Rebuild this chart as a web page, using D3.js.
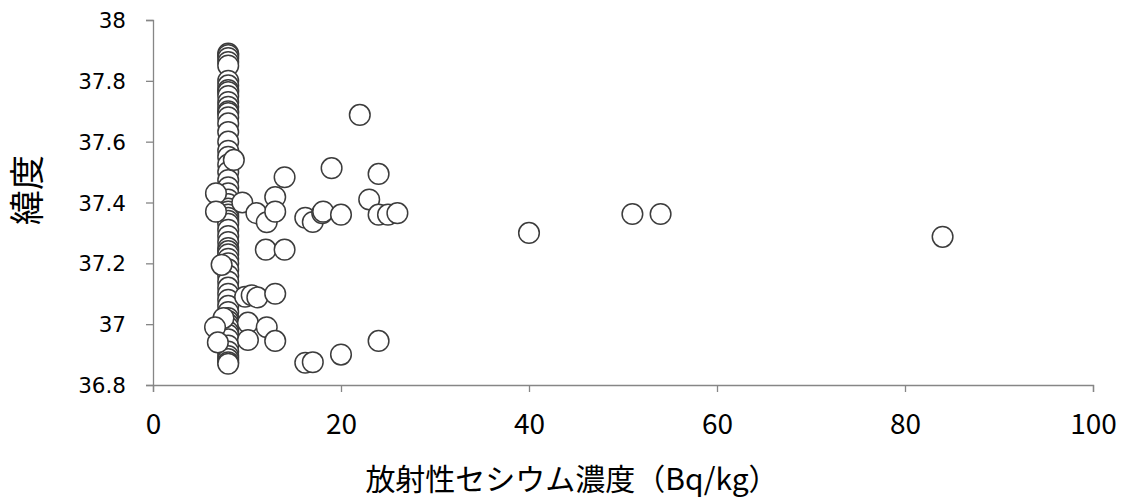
<!DOCTYPE html>
<html><head><meta charset="utf-8">
<script src="https://cdn.jsdelivr.net/npm/d3@7"></script>
<style>body{margin:0;background:#fff}</style>
</head><body>
<svg id="chart" width="1127" height="504"></svg>
<script>
// Column of samples at ~8 Bq/kg (detection-limit level)
const columnCesium = 8;
const columnLatitudes = [37.89,37.885,37.875,37.862,37.85,37.80,37.785,37.77,37.763,37.75,37.73,37.715,37.70,37.694,37.68,37.66,37.632,37.60,37.57,37.55,37.525,37.50,37.474,37.45,37.43,37.41,37.395,37.38,37.37,37.36,37.35,37.34,37.33,37.31,37.29,37.27,37.25,37.24,37.23,37.215,37.20,37.18,37.16,37.14,37.12,37.10,37.08,37.06,37.04,37.02,37.01,37.0,36.99,36.975,36.965,36.95,36.93,36.91,36.895,36.885,36.875,36.87];
// Other samples
const otherCesium  = [22,19,24,14,13,23,8.6,9.5,6.7,6.7,11,12.1,13,16.2,17,18,18.1,20,24,25,26,40,51,54,84,12,14,7.3,9.8,10.5,11.1,13,7.5,10.1,6.6,10.1,12.1,6.9,13,16.2,17,20,24];
const otherLatitude= [37.688,37.513,37.494,37.483,37.418,37.41,37.54,37.40,37.43,37.37,37.365,37.335,37.37,37.35,37.336,37.365,37.37,37.36,37.36,37.36,37.365,37.30,37.362,37.362,37.287,37.245,37.245,37.195,37.09,37.095,37.088,37.10,37.02,37.005,36.99,36.948,36.99,36.94,36.945,36.873,36.875,36.90,36.945];
const xTicks = [0,20,40,60,80,100];
const yTicks = [36.8,37,37.2,37.4,37.6,37.8,38];
const xTitle = "放射性セシウム濃度（Bq/kg）";
const yTitle = "緯度";

const points = columnLatitudes.map(l => ({x: columnCesium, y: l}))
  .concat(otherCesium.map((c,i) => ({x: c, y: otherLatitude[i]})));

const svg = d3.select("#chart");
const m = {left:153, right:1093, top:20, bottom:385};
const x = d3.scaleLinear().domain([0,100]).range([m.left, m.right]);
const y = d3.scaleLinear().domain([36.8,38]).range([m.bottom, m.top]);

const axisColor = "#868686";
const xa = svg.append("g").attr("transform",`translate(0,${m.bottom})`)
  .call(d3.axisBottom(x).tickValues(xTicks).tickSize(7).tickPadding(22).tickFormat(d3.format("d")));
const ya = svg.append("g").attr("transform",`translate(${m.left},0)`)
  .call(d3.axisLeft(y).tickValues(yTicks).tickSize(7).tickPadding(20).tickFormat(d => String(+d.toFixed(1))));
[xa,ya].forEach(g => {
  g.select(".domain").attr("stroke",axisColor).attr("stroke-width",1.3);
  g.selectAll(".tick line").attr("stroke",axisColor).attr("stroke-width",1.3);
});
xa.selectAll("text").attr("font-family","'Noto Sans CJK JP', sans-serif").attr("font-size",28).attr("fill","#000");
ya.selectAll("text").attr("font-family","'DejaVu Sans', sans-serif").attr("font-size",21.5).attr("fill","#000").attr("dy","0.35em");

svg.append("g").selectAll("circle").data(points).join("circle")
  .attr("cx", d => x(d.x)).attr("cy", d => y(d.y)).attr("r", 10.3)
  .attr("fill","#fff").attr("stroke","#3c3c3c").attr("stroke-width",1.5);

svg.append("text").attr("x", 572).attr("y", 490).attr("text-anchor","middle")
  .attr("font-family","'Noto Sans CJK JP', sans-serif").attr("font-size",30).attr("fill","#000").text(xTitle);
svg.append("text").attr("transform","translate(40,190) rotate(-90)").attr("text-anchor","middle")
  .attr("font-family","'Noto Sans CJK JP', sans-serif").attr("font-size",35).attr("fill","#000").text(yTitle);
</script>
</body></html>
